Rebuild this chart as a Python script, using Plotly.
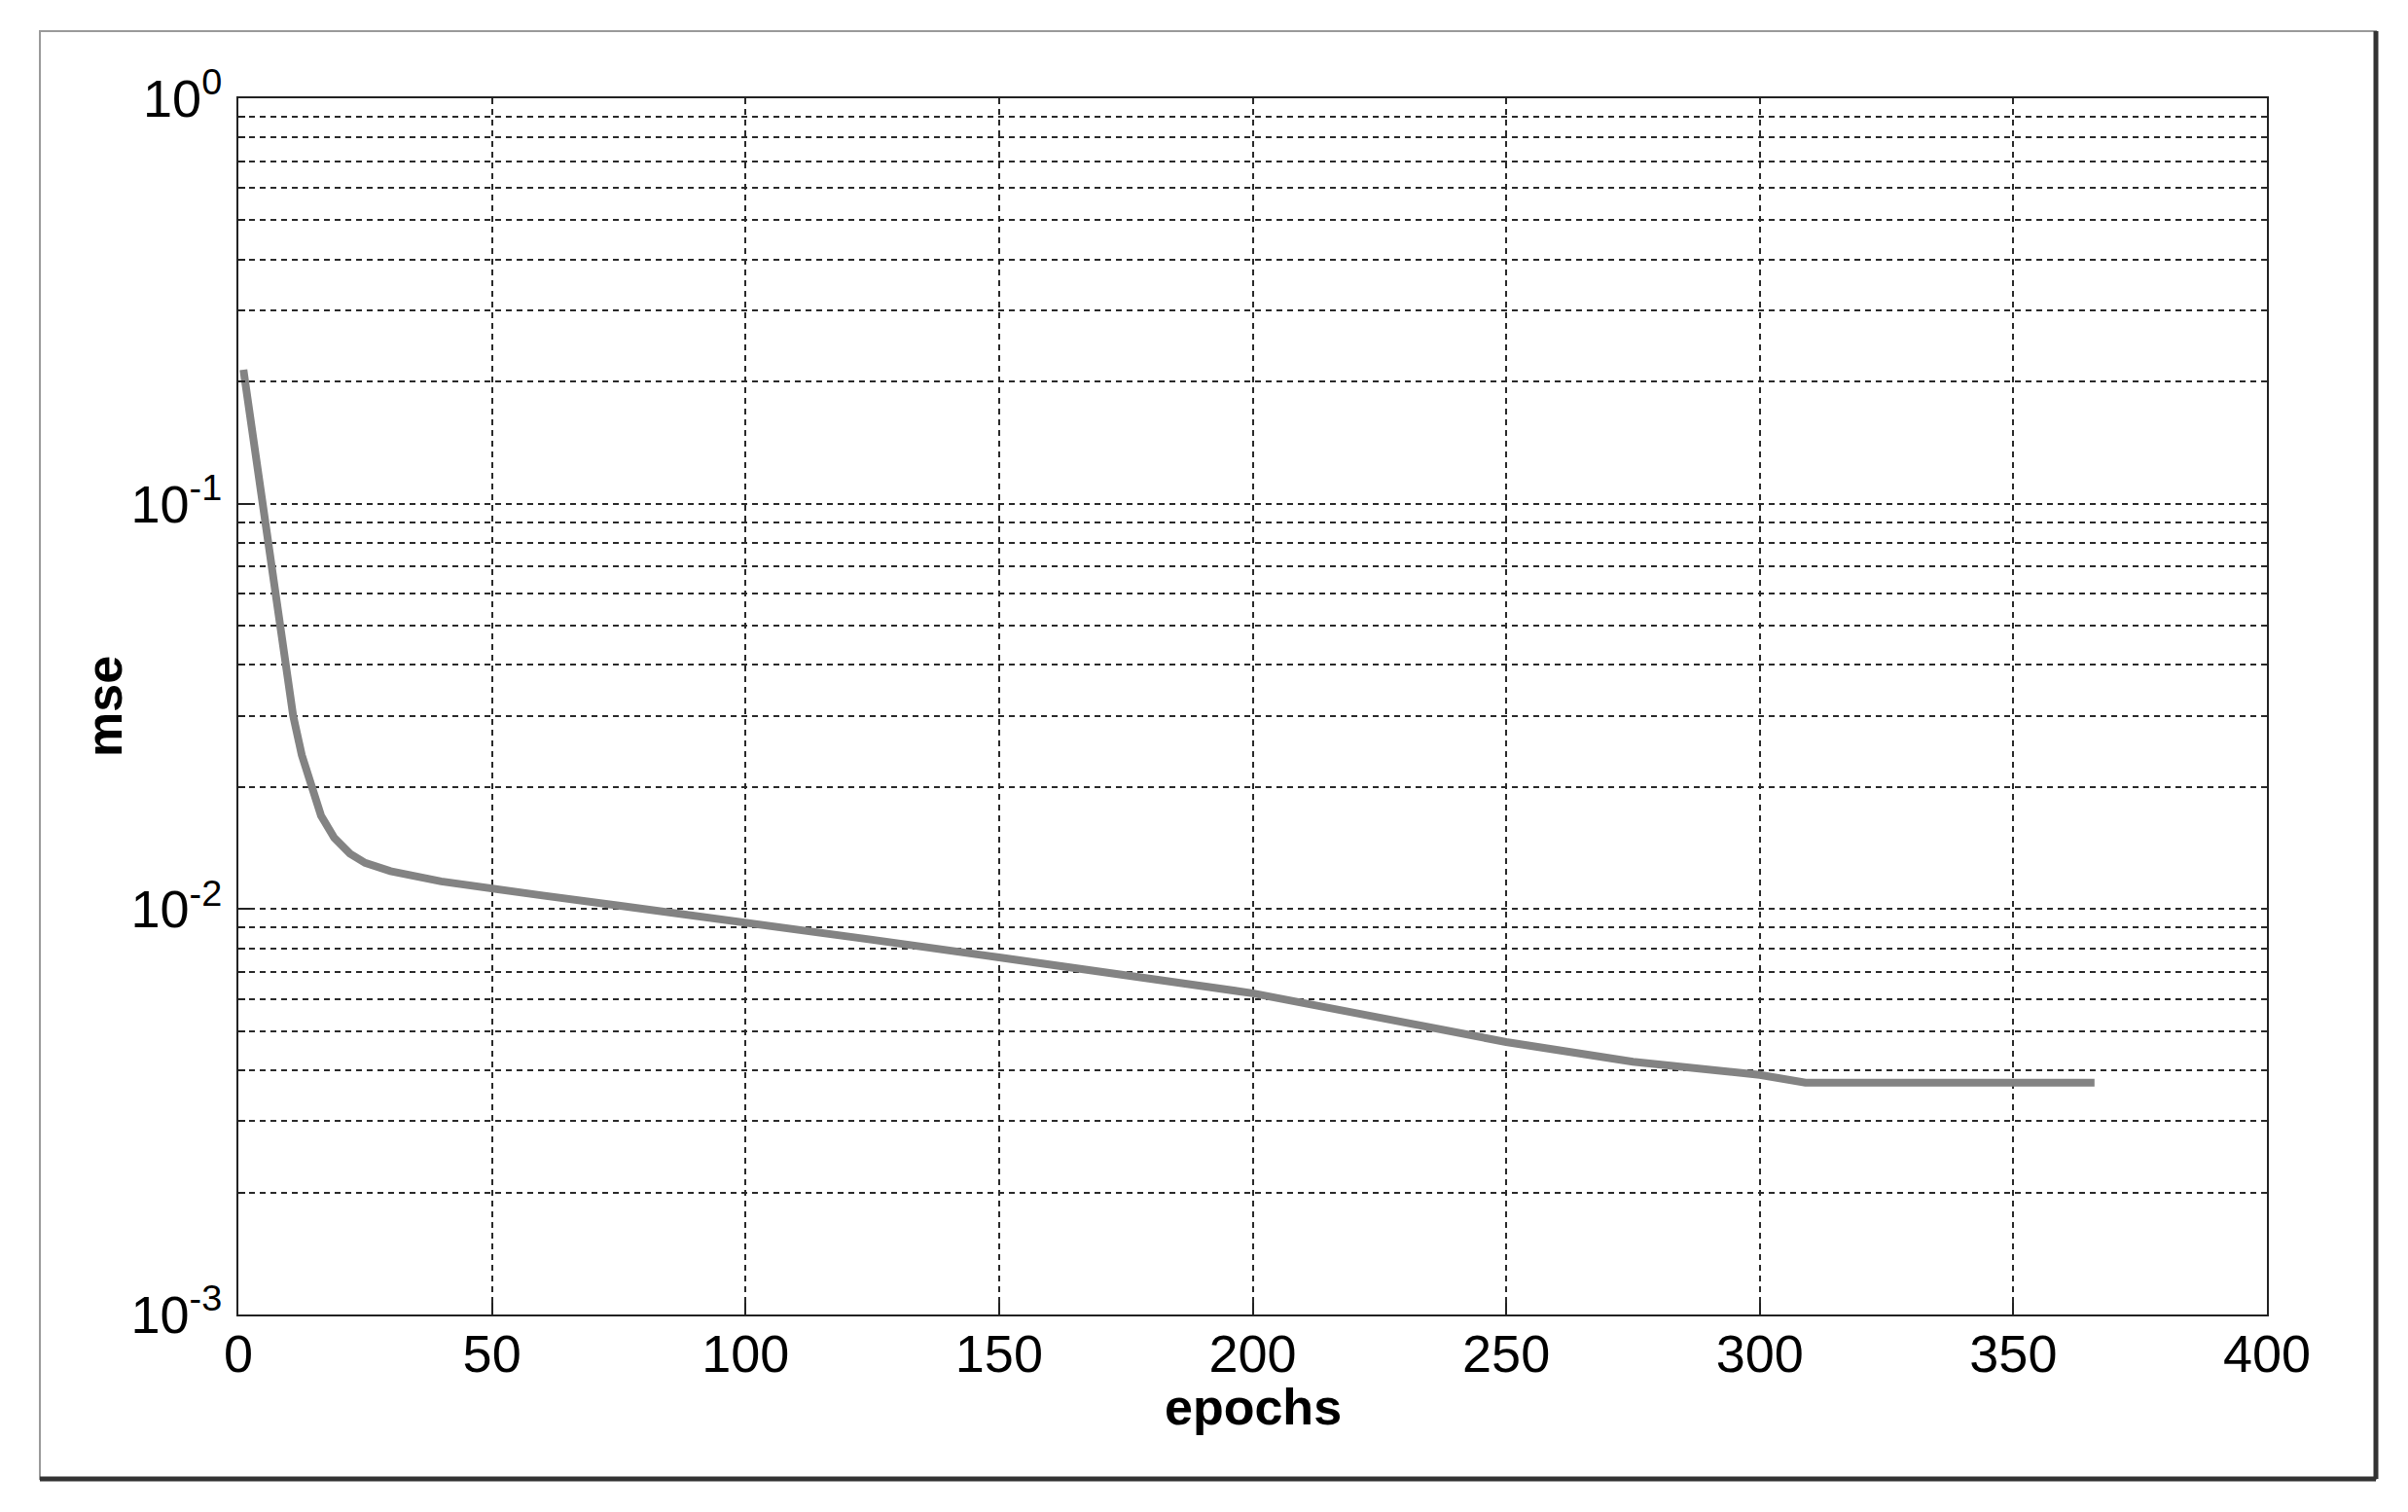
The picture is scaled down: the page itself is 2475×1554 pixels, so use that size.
import plotly.graph_objects as go

# data
epochs = [1, 3, 5, 6.6, 8, 9.5, 10.8, 12.5, 14.4, 16.3, 18.9, 22, 25, 30, 40, 50, 60, 75,
          100, 125, 150, 175, 200, 225, 250, 275, 300, 309, 366]
mse = [0.214, 0.145, 0.100, 0.070, 0.055, 0.040, 0.030, 0.024, 0.020, 0.017, 0.015, 0.0137,
       0.0130, 0.0124, 0.0117, 0.0112, 0.0108, 0.0102, 0.0093, 0.0084, 0.0076, 0.0069,
       0.0062, 0.0054, 0.0047, 0.0042, 0.0039, 0.00373, 0.00373]

x_ticks = [0, 50, 100, 150, 200, 250, 300, 350, 400]
decades = [-3, -2, -1, 0]
x_title = "epochs"
y_title = "mse"

y_tickvals = [10.0 ** d for d in decades]
y_ticktext = [f"10<sup>{d}</sup>" for d in decades]
y_minorvals = [m * 10.0 ** d for d in decades[:-1] for m in range(2, 10)]

FONT = "Liberation Sans, Arial, sans-serif"

# plot area in page pixels (page body has an 8px margin)
L, T, W, H = 245 - 8, 101 - 8, 2085, 1250
R = 2475 - L - W
B = 1554 - T - H

def px_x(p):
    return (p - 245) / W

def px_y(p):
    return (1351 - p) / H

fig = go.Figure()
fig.add_trace(go.Scatter(x=epochs, y=mse, mode="lines",
                         line=dict(color="#838383", width=8), hoverinfo="skip"))

axis_common = dict(showline=True, mirror=True, linecolor="#222222", linewidth=2,
                   ticks="inside", ticklen=12, tickwidth=2, tickcolor="#222222",
                   showgrid=True, gridcolor="#2a2a2a", gridwidth=2, griddash="6px,5px",
                   zeroline=False, tickfont=dict(family=FONT, size=54, color="black"))

fig.update_xaxes(range=[0, 400], tickvals=x_ticks, ticktext=[str(v) for v in x_ticks],
                 ticklabelstandoff=-8, **axis_common)
fig.update_yaxes(type="log", range=[-3, 0], tickvals=y_tickvals, ticktext=y_ticktext,
                 ticklabelstandoff=4,
                 minor=dict(tickmode="array", tickvals=y_minorvals, ticks="inside", ticklen=7,
                            tickwidth=2, tickcolor="#222222", showgrid=True,
                            gridcolor="#2a2a2a", gridwidth=2, griddash="6px,5px"),
                 **axis_common)

fig.add_annotation(text=f"<b>{x_title}</b>", xref="paper", yref="paper",
                   x=0.5, y=px_y(1446), xanchor="center", yanchor="middle",
                   showarrow=False, font=dict(family=FONT, size=52, color="black"))
fig.add_annotation(text=f"<b>{y_title}</b>", xref="paper", yref="paper",
                   x=px_x(107), y=0.5, xanchor="center", yanchor="middle", textangle=-90,
                   showarrow=False, font=dict(family=FONT, size=52, color="black"))

# outer frame
x0, x1 = px_x(41), px_x(2442)
y0, y1 = px_y(1520), px_y(32)
fig.add_shape(type="rect", xref="paper", yref="paper", x0=x0, x1=x1, y0=y0, y1=y1,
              line=dict(color="#9a9a9a", width=2), layer="below")
fig.add_shape(type="line", xref="paper", yref="paper", x0=x0, x1=x1, y0=y0, y1=y0,
              line=dict(color="#333333", width=5))
fig.add_shape(type="line", xref="paper", yref="paper", x0=x1, x1=x1, y0=y0, y1=y1,
              line=dict(color="#333333", width=5))

fig.update_layout(width=2475, height=1554,
                  margin=dict(l=L, r=R, t=T, b=B, autoexpand=False),
                  plot_bgcolor="white", paper_bgcolor="white", showlegend=False,
                  font=dict(family=FONT, color="black"))

fig.write_html("out.html")
